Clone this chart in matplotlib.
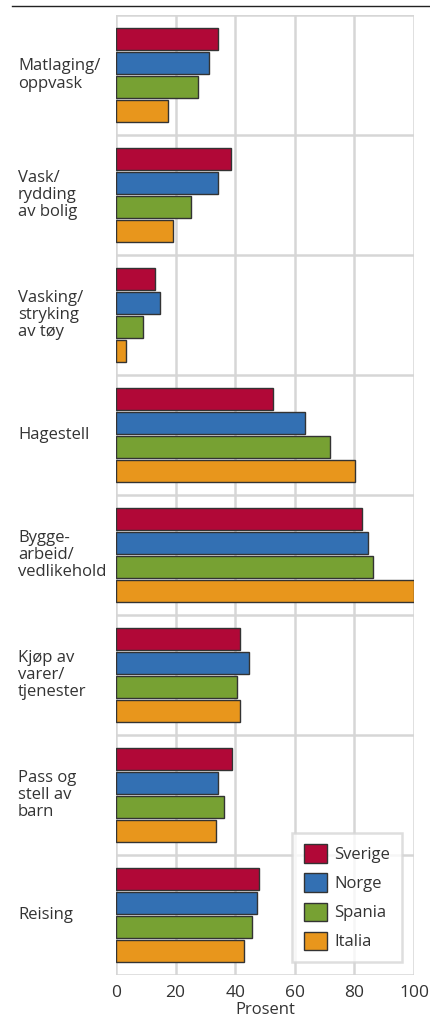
import matplotlib
matplotlib.use("Agg")
import matplotlib.pyplot as plt
import matplotlib.transforms as mtransforms
from matplotlib.patches import Patch
import numpy as np

plt.rcParams['font.family'] = ['Open Sans', 'DejaVu Sans']

categories = ["Matlaging/\noppvask", "Vask/\nrydding\nav bolig", "Vasking/\nstryking\nav tøy",
              "Hagestell", "Bygge-\narbeid/\nvedlikehold", "Kjøp av\nvarer/\ntjenester",
              "Pass og\nstell av\nbarn", "Reising"]
series_names = ["Sverige", "Norge", "Spania", "Italia"]
sverige = [34.2, 38.7, 13.2, 52.6, 82.4, 41.7, 38.8, 48.1]
norge = [31.3, 34.2, 14.6, 63.5, 84.7, 44.5, 34.3, 47.2]
spania = [27.4, 25.1, 8.9, 71.7, 86.1, 40.5, 36.2, 45.6]
italia = [17.6, 19.1, 3.5, 80.2, 100.0, 41.6, 33.4, 43.0]
xticks = [0, 20, 40, 60, 80, 100]
xlabel = "Prosent"

colors = ["#B10837", "#3370B3", "#77A133", "#E8961C"]
series = [sverige, norge, spania, italia]
FS = 12
TXT = "#333333"

fig = plt.figure(figsize=(4.3, 10.18), dpi=100)
ax = fig.add_axes([116/430, 43/1018, 298/430, 960/1018])

y = np.arange(len(categories))
offsets = [-0.3, -0.1, 0.1, 0.3]
for vals, off, col in zip(series, offsets, colors):
    ax.barh(y + off, vals, height=0.182, color=col, edgecolor="#333333",
            linewidth=1.0, zorder=3)

ax.set_xlim(0, 100)
ax.set_ylim(len(categories) - 0.5, -0.5)
ax.set_xticks(xticks)
ax.set_xticklabels([str(t) for t in xticks])
ax.set_yticks(np.arange(-0.5, len(categories), 1.0))
ax.set_yticklabels([])
ax.tick_params(axis='both', length=0, labelsize=12.5, colors=TXT, pad=7)
ax.grid(True, axis='both', color="#d6d6d6", linewidth=1.8, zorder=0)
for s in ax.spines.values():
    s.set_visible(False)

fig.text((116 + 149) / 430, 0.5 / 1018, xlabel, ha='center', va='bottom',
         fontsize=FS, color=TXT)

trans = mtransforms.blended_transform_factory(fig.transFigure, ax.transData)
for yi, cat in zip(y, categories):
    ax.text(18/430, yi, cat, transform=trans, ha='left', va='center',
            fontsize=FS, color=TXT, linespacing=1.1)

handles = [Patch(facecolor=c, edgecolor="#333333", linewidth=1.0) for c in colors]
leg = ax.legend(handles, series_names, loc='lower right', bbox_to_anchor=(0.96, 0.0135),
                borderaxespad=0, frameon=True, fancybox=False, fontsize=FS,
                handlelength=1.38, handleheight=1.32, labelspacing=0.62,
                handletextpad=0.45, borderpad=0.7)
leg.get_frame().set_edgecolor("#d6d6d6")
leg.get_frame().set_linewidth(1.8)
for t in leg.get_texts():
    t.set_color(TXT)
leg.set_zorder(5)

fig.add_artist(plt.Line2D([12/430, 1.0], [1 - 6/1018, 1 - 6/1018],
                          transform=fig.transFigure, color="#222222", linewidth=1.0))

fig.savefig("out.png", dpi=100)
